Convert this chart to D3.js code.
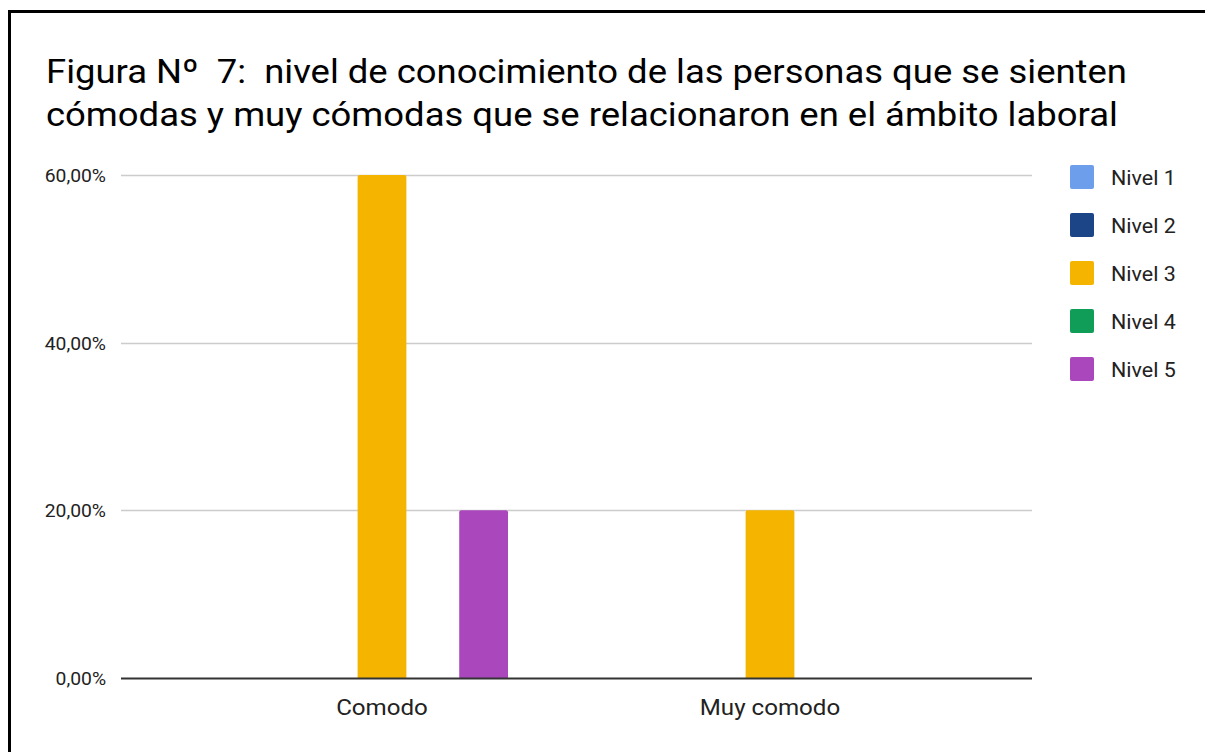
<!DOCTYPE html>
<html>
<head>
<meta charset="utf-8">
<script src="https://cdn.jsdelivr.net/npm/d3@7/dist/d3.min.js"></script>
<style>
  html, body { margin: 0; padding: 0; background: #fff; }
  svg { display: block; font-family: Roboto, "Noto Sans", sans-serif; }
  text { white-space: pre; }
</style>
</head>
<body>
<svg id="chart" width="1205" height="752"></svg>
<script>
// Categories, series and values (percent)
const categories = ["Comodo", "Muy comodo"];
const seriesNames = ["Nivel 1", "Nivel 2", "Nivel 3", "Nivel 4", "Nivel 5"];
const seriesColors = ["#6d9eeb", "#1c4587", "#f4b400", "#0f9d58", "#ab47bc"];
const valuesComodo = [0, 0, 60, 0, 20];
const valuesMuyComodo = [0, 0, 20, 0, 0];
const yTicks = [0, 20, 40, 60];
const titleLines = [
  "Figura Nº  7:  nivel de conocimiento de las personas que se sienten",
  "cómodas y muy cómodas que se relacionaron en el ámbito laboral"
];

const rows = [valuesComodo, valuesMuyComodo];
const data = categories.map((c, i) => ({
  category: c,
  values: seriesNames.map((s, j) => ({ series: s, value: rows[i][j], color: seriesColors[j] }))
}));

// text in this figure is set slightly wide
const WIDEN = 1.072;
function widen(sel) {
  sel.each(function () {
    const len = this.getComputedTextLength();
    d3.select(this).attr("textLength", len * WIDEN).attr("lengthAdjust", "spacingAndGlyphs");
  });
}

const svg = d3.select("#chart");

// frame
svg.append("rect")
  .attr("x", 9.5).attr("y", 11.5)
  .attr("width", 1300).attr("height", 900)
  .attr("fill", "#fff").attr("stroke", "#000").attr("stroke-width", 3);

// title
svg.append("g").selectAll("text").data(titleLines).join("text")
  .attr("x", 46)
  .attr("y", (d, i) => 83 + i * 43)
  .attr("font-size", 34)
  .attr("fill", "#000")
  .text(d => d)
  .call(widen);

const plot = { left: 121, right: 1032, top: 175, bottom: 678 };

const y = d3.scaleLinear().domain([0, 60]).range([plot.bottom, plot.top]);
const x0 = d3.scaleBand().domain(categories).range([188, 964]).paddingInner(0).paddingOuter(0);
const x1 = d3.scaleBand().domain(seriesNames).range([-126, 126]).paddingInner(0.04);

const fmt = v => d3.format(".2f")(v).replace(".", ",") + "%";

// gridlines
const grid = svg.append("g");
grid.selectAll("line").data(yTicks.filter(t => t > 0)).join("line")
  .attr("x1", plot.left).attr("x2", plot.right)
  .attr("y1", d => Math.round(y(d)) + 0.5).attr("y2", d => Math.round(y(d)) + 0.5)
  .attr("stroke", "#cccccc").attr("stroke-width", 1.5);

// y axis labels
const yAxis = d3.axisLeft(y).tickValues(yTicks).tickFormat(fmt).tickSize(0).tickPadding(0);
const yg = svg.append("g").attr("transform", `translate(106,0)`).call(yAxis);
yg.select(".domain").remove();
yg.selectAll("text").attr("font-size", 18).attr("fill", "#222").attr("font-family", "Roboto")
  .attr("dy", "0.36em").call(widen);

// bars
const groups = svg.append("g").selectAll("g").data(data).join("g")
  .attr("transform", d => `translate(${x0(d.category) + x0.bandwidth() / 2},0)`);

groups.selectAll("path").data(d => d.values.filter(v => v.value > 0)).join("path")
  .attr("fill", d => d.color)
  .attr("d", d => {
    const xl = x1(d.series), w = x1.bandwidth();
    const yt = y(d.value), yb = y(0), r = 2;
    return `M${xl},${yb}V${yt + r}Q${xl},${yt} ${xl + r},${yt}H${xl + w - r}Q${xl + w},${yt} ${xl + w},${yt + r}V${yb}Z`;
  });

// baseline and category labels
const xAxis = d3.axisBottom(x0).tickSize(0).tickPadding(0);
const xg = svg.append("g").attr("transform", `translate(0,${plot.bottom})`).call(xAxis);
xg.select(".domain").remove();
xg.selectAll("text").attr("font-size", 22.5).attr("fill", "#222").attr("font-family", "Roboto")
  .attr("dy", null).attr("y", 37).call(widen);
svg.append("line")
  .attr("x1", plot.left).attr("x2", plot.right)
  .attr("y1", plot.bottom + 0.5).attr("y2", plot.bottom + 0.5)
  .attr("stroke", "#333").attr("stroke-width", 2);

// legend
const legend = svg.append("g").selectAll("g").data(seriesNames).join("g")
  .attr("transform", (d, i) => `translate(1070,${165 + i * 48})`);
legend.append("rect")
  .attr("width", 24).attr("height", 24).attr("rx", 2)
  .attr("fill", (d, i) => seriesColors[i]);
legend.append("text")
  .attr("x", 41).attr("y", 20)
  .attr("font-size", 20).attr("fill", "#222")
  .text(d => d)
  .call(widen);
</script>
</body>
</html>
